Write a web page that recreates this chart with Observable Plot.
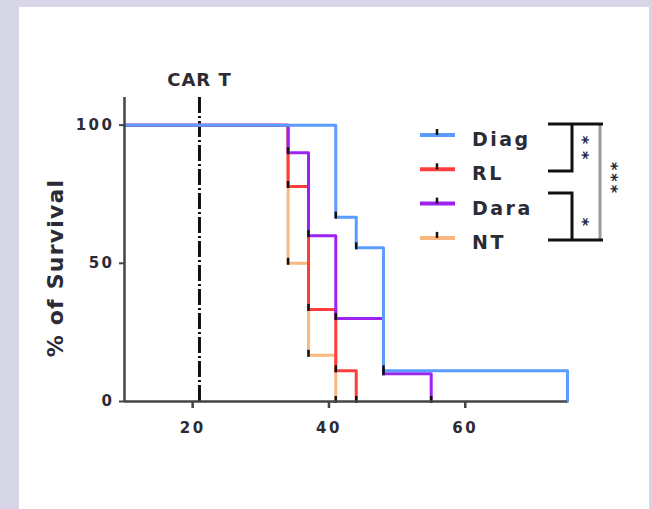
<!DOCTYPE html>
<html><head><meta charset="utf-8">
<script src="https://cdn.jsdelivr.net/npm/d3@7"></script>
<script src="https://cdn.jsdelivr.net/npm/@observablehq/plot@0.6"></script>
<style>
html,body{margin:0;padding:0;background:#d6d6e6;width:651px;height:509px;overflow:hidden;font-family:"DejaVu Sans",sans-serif;}
#panel{position:absolute;left:19px;top:7px;width:630px;height:502px;background:#fff;}
#chart{position:absolute;left:0;top:0;}
#overlay{position:absolute;left:0;top:0;}
</style></head><body>
<div id="panel"></div><div id="chart"></div><svg id="overlay" width="651" height="509"></svg>
<script>
// ---- data ----
const groups = ["Diag", "RL", "Dara", "NT"];
const colors = ["#5b9dff", "#ff3d3d", "#9d22f0", "#f8b87e"];
const diagDays = [10, 41, 44, 48, 75];
const diagSurv = [100, 66.7, 55.6, 11.1, 0];
const rlDays = [10, 34, 37, 41, 44];
const rlSurv = [100, 77.8, 33.3, 11.1, 0];
const daraDays = [10, 34, 37, 41, 48, 55];
const daraSurv = [100, 90, 60, 30, 10, 0];
const ntDays = [10, 34, 37, 41];
const ntSurv = [100, 50, 16.7, 0];
const carTDay = 21;
const xTicks = [20, 40, 60];
const yTicks = [0, 50, 100];
const xDomain = [10, 75];
const yDomain = [0, 110];
const yLabel = "% of Survival";
const sigLabels = ["**", "*", "***"];

// ---- build table ----
const seriesList = [
  {group: "NT", days: ntDays, surv: ntSurv},
  {group: "RL", days: rlDays, surv: rlSurv},
  {group: "Dara", days: daraDays, surv: daraSurv},
  {group: "Diag", days: diagDays, surv: diagSurv}
];
const rows = seriesList.flatMap(s => s.days.map((t, i) => ({group: s.group, t, s: s.surv[i]})));
const events = seriesList.flatMap(s => s.days.map((t, i) => ({group: s.group, t, s: s.surv[i], i})))
  .filter(d => d.i > 0 && !(d.group === "Diag" && d.t === 75));

const font = "DejaVu Sans, sans-serif";
const ink = "#2b2b35";
const plot = Plot.plot({
  width: 651, height: 509,
  marginLeft: 124, marginRight: 84, marginTop: 97, marginBottom: 108,
  style: {background: "transparent", fontFamily: font, color: ink},
  x: {domain: xDomain},
  y: {domain: yDomain},
  color: {domain: groups, range: colors},
  marks: [
    Plot.ruleX([carTDay], {y1: 0, y2: 110, stroke: "#111", strokeWidth: 3, strokeDasharray: "16,3,2,3"}),
    Plot.line(rows, {x: "t", y: "s", z: "group", stroke: "group", curve: "step-after", strokeWidth: 3}),
    Plot.ruleX(events, {x: "t", y1: "s", y2: "s", insetTop: -5, insetBottom: -2, stroke: "#111", strokeWidth: 2.5}),
    Plot.ruleX([xDomain[0]], {y1: 0, y2: 110, stroke: "#444", strokeWidth: 2.5}),
    Plot.ruleY([0], {x1: xDomain[0], x2: xDomain[1], stroke: "#444", strokeWidth: 2.5}),
    Plot.axisX(xTicks, {tickSize: 7, tickPadding: 14, fontSize: 15, fontWeight: "bold", strokeWidth: 2.5, stroke: "#444", fill: ink, label: null}),
    Plot.axisY(yTicks, {tickSize: 5, tickPadding: 5, fontSize: 15, fontWeight: "bold", strokeWidth: 2, stroke: "#444", fill: ink, label: null}),
    Plot.text(["CAR T"], {x: carTDay, y: 110, dy: -17, fontSize: 18, fontWeight: "bold", fill: ink})
  ]
});
document.getElementById("chart").appendChild(plot);
const root = d3.select(plot);
root.selectAll("[aria-label='x-axis tick label'] text, [aria-label='y-axis tick label'] text").style("letter-spacing", "2.5px");
root.selectAll("[aria-label='text'] text").style("letter-spacing", "1px");

// ---- y label, legend & significance brackets ----
const ov = d3.select("#overlay");
ov.append("text").attr("transform", "translate(55,268) rotate(-90)")
  .attr("text-anchor", "middle").attr("dominant-baseline", "central").text(yLabel)
  .attr("font-family", font).attr("font-size", 22).attr("font-weight", "bold")
  .attr("fill", ink).style("letter-spacing", "1.2px");
const legY0 = 135, legStep = 34.3;
groups.forEach((g, i) => {
  const y = legY0 + i * legStep;
  ov.append("line").attr("x1", 420).attr("x2", 455).attr("y1", y).attr("y2", y)
    .attr("stroke", colors[i]).attr("stroke-width", 4);
  ov.append("line").attr("x1", 437).attr("x2", 437).attr("y1", y - 6).attr("y2", y)
    .attr("stroke", "#111").attr("stroke-width", 2.5);
  ov.append("text").attr("x", 472).attr("y", y + 11).text(g)
    .attr("font-family", font).attr("font-size", 19).attr("font-weight", "bold")
    .attr("fill", ink).style("letter-spacing", "2.5px");
});
const br = (pts, color) => ov.append("path").attr("d", d3.line()(pts)).attr("fill", "none")
  .attr("stroke", color || "#111").attr("stroke-width", 3);
br([[600, 124], [600, 240]], "#9a9a9a");
br([[548, 124], [603, 124]]);
br([[572, 124], [572, 171], [548, 171]]);
br([[548, 193], [572, 193], [572, 240]]);
br([[548, 240], [603, 240]]);
const sig = (x, y, t, size, ls) => ov.append("text").attr("transform", `translate(${x},${y}) rotate(90)`)
  .attr("text-anchor", "middle").attr("dy", "0.58em").text(t)
  .attr("font-family", font).attr("font-size", size).attr("font-weight", "bold").attr("fill", "#1d2340")
  .style("letter-spacing", ls + "px");
sig(586, 151, sigLabels[0], 16, 7);
sig(586, 222, sigLabels[1], 16, 0);
sig(615, 179, sigLabels[2], 16, 3);
</script>
</body></html>
